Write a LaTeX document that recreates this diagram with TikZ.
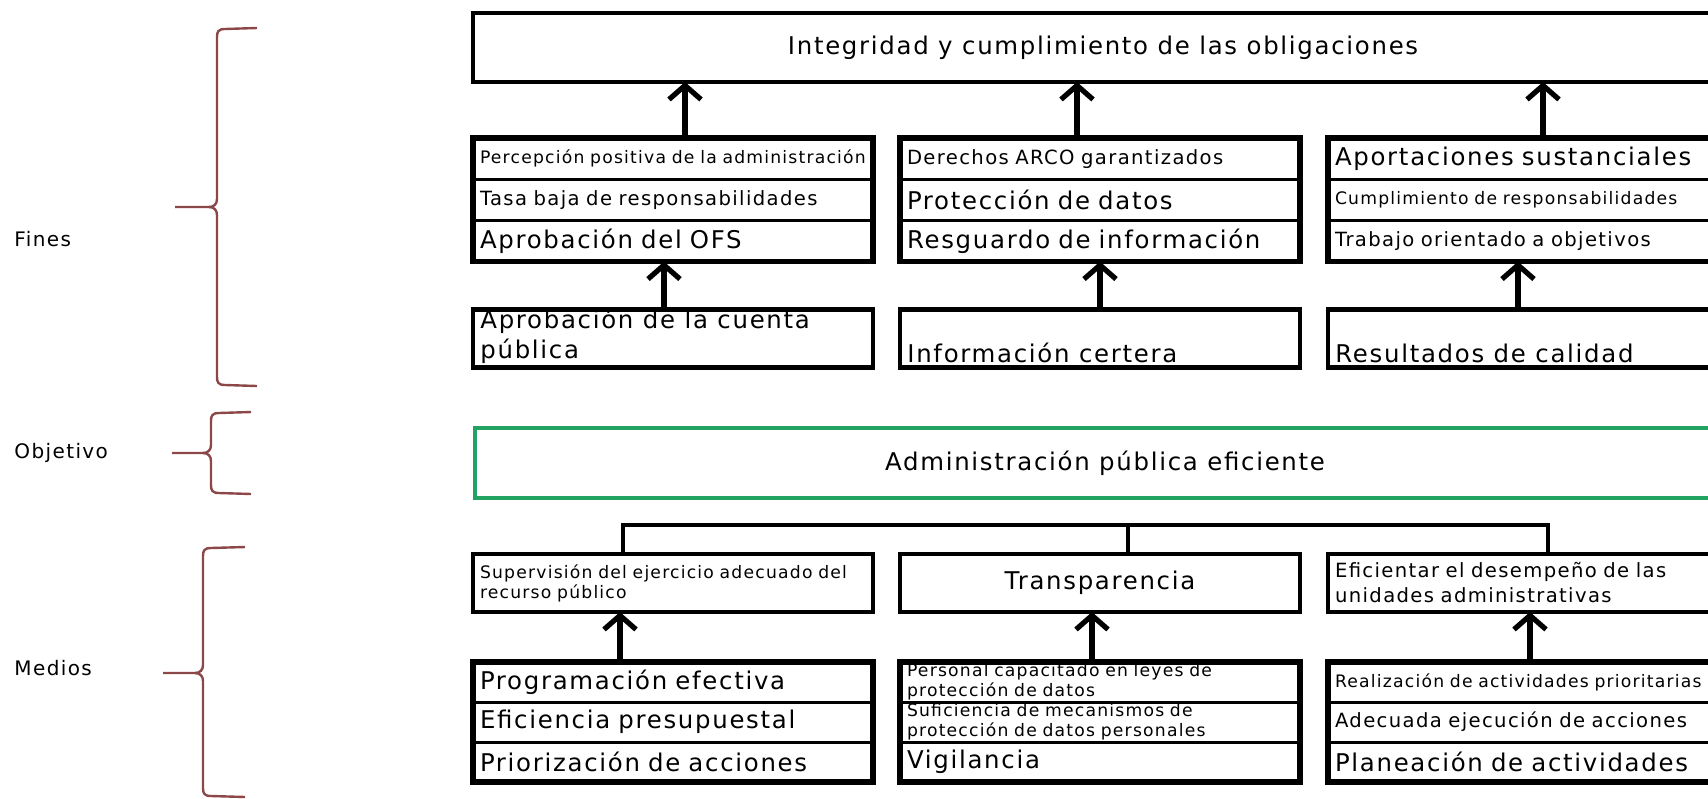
\documentclass[tikz,border=0pt]{standalone}
\usepackage{fontspec}
\setmainfont{DejaVu Sans}[LetterSpace=7]
\usetikzlibrary{arrows.meta,positioning}
\definecolor{verdeobj}{HTML}{22A263}
\definecolor{granate}{HTML}{8C4848}
\newcommand{\fgde}{\fontsize{12.2}{15}\selectfont}
\newcommand{\fmed}{\fontsize{9.8}{12.5}\selectfont}
\newcommand{\fpeq}{\fontsize{8.6}{10}\selectfont}
\tikzset{
  celda/.style={draw,line width=1.5pt,outer sep=0pt,inner xsep=3.5pt,inner ysep=0.5pt,
    text width=193pt,align=left,minimum height=20.6pt,anchor=north west},
  caja/.style={celda,line width=2.4pt,minimum height=29pt},
  marco/.style={line width=2.6pt},
  texto/.style={inner xsep=3.5pt,inner ysep=2pt,align=left,anchor=south west},
  flecha/.style={line width=2.6pt,-{Straight Barb[length=7pt,width=16pt]}},
  union/.style={line width=2.2pt,line join=miter},
  llave/.style={granate,line width=1.2pt},
  etiqueta/.style={anchor=west,inner sep=0pt,font=\fontsize{10}{12}\selectfont}
}
\begin{document}
\begin{tikzpicture}[x=0.5pt,y=-0.5pt]
    \useasboundingbox (0,0) rectangle (1708,798);
    \clip (0,0) rectangle (1708,798);
    % --- llaves y etiquetas ---
    \foreach \xv/\ya/\ym/\yb/\xt/\xe in {217/28/207/386/175/257,
                                          211/412/453/494/172/251,
                                          203/547/673/797/163/245}{
      \draw[llave] (\xe,\ya) -- (\xv+8,\ya+1) .. controls (\xv+1,\ya+1) and (\xv,\ya+4) .. (\xv,\ya+9)
        -- (\xv,\ym-8) .. controls (\xv,\ym-3) and (\xv-3,\ym) .. (\xv-8,\ym) -- (\xt,\ym);
      \draw[llave] (\xv-8,\ym) .. controls (\xv-3,\ym) and (\xv,\ym+3) .. (\xv,\ym+8)
        -- (\xv,\yb-9) .. controls (\xv,\yb-4) and (\xv+1,\yb-1) .. (\xv+8,\yb-1) -- (\xe,\yb);
    }
    \node[etiqueta] (lfines) at (14,239) {Fines};
    \node[etiqueta] (lobj) at (14,453) {Objetivo};
    \node[etiqueta] (lmedios) at (14,668) {Medios};
    % --- fin superior ---
    \node[draw,line width=2pt,outer sep=0pt,anchor=north west,minimum width=630pt,
          minimum height=34.5pt,font=\fgde] (fin) at (473,13)
          {Integridad y cumplimiento de las obligaciones};
    % --- fines: columnas ---
    \node[celda,font=\fpeq] (a1) at (473,138) {Percepción positiva de la administración};
    \node[celda,font=\fmed,below=0pt of a1] (a2) {Tasa baja de responsabilidades};
    \node[celda,font=\fgde,below=0pt of a2] (a3) {Aprobación del OFS};
    \node[celda,font=\fmed,right=13.5pt of a1] (b1) {Derechos ARCO garantizados};
    \node[celda,font=\fgde,below=0pt of b1] (b2) {Protección de datos};
    \node[celda,font=\fgde,below=0pt of b2] (b3) {Resguardo de información};
    \node[celda,font=\fgde,right=14pt of b1] (c1) {Aportaciones sustanciales};
    \node[celda,font=\fpeq,below=0pt of c1] (c2) {Cumplimiento de responsabilidades};
    \node[celda,font=\fmed,below=0pt of c2] (c3) {Trabajo orientado a objetivos};
    \foreach \g in {a,b,c}{
      \draw[marco] (\g1.north west) rectangle (\g3.south east);
    }
    \node[caja,below=24pt of a3] (a4) {};
    \node[caja,below=24pt of b3] (b4) {};
    \node[caja,below=24pt of c3] (c4) {};
    \node[texto,font=\fgde] (a4t) at (a4.south west) {Aprobación de la cuenta\\pública};
    \node[texto,font=\fgde] (b4t) at (b4.south west) {Información certera};
    \node[texto,font=\fgde] (c4t) at (c4.south west) {Resultados de calidad};
    % --- flechas de fines ---
    \draw[flecha] ([xshift=6pt]a1.north) -- ([xshift=6pt]a1.north |- fin.south);
    \draw[flecha] ([xshift=-11.5pt]b1.north) -- ([xshift=-11.5pt]b1.north |- fin.south);
    \draw[flecha] ([xshift=7.5pt]c1.north) -- ([xshift=7.5pt]c1.north |- fin.south);
    \draw[flecha] ([xshift=-4.5pt]a4.north) -- ([xshift=-4.5pt]a3.south);
    \draw[flecha] (b4.north) -- (b3.south);
    \draw[flecha] ([xshift=-5pt]c4.north) -- ([xshift=-5pt]c3.south);
    % --- objetivo ---
    \node[draw=verdeobj,line width=1.7pt,outer sep=0pt,anchor=north west,minimum width=630pt,
          minimum height=35pt,font=\fgde] (obj) at (475,428) {Administración pública eficiente};
    % --- medios ---
    \node[caja,font=\fpeq] (d1) at (473,554) {Supervisión del ejercicio adecuado del\\recurso público};
    \node[caja,font=\fgde,align=center,right=13.5pt of d1] (e1) {Transparencia};
    \node[caja,font=\fmed,right=14pt of e1] (f1) {Eficientar el desempeño de las\\unidades administrativas};
    \node[celda,font=\fgde,minimum height=20pt,below=25pt of d1] (d2) {Programación efectiva};
    \node[celda,font=\fgde,minimum height=20pt,below=0pt of d2] (d3) {Eficiencia presupuestal};
    \node[celda,font=\fgde,minimum height=20pt,below=0pt of d3] (d4) {Priorización de acciones};
    \node[celda,font=\fpeq,minimum height=20pt,below=25pt of e1] (e2) {Personal capacitado en leyes de\\protección de datos};
    \node[celda,font=\fpeq,minimum height=20pt,below=0pt of e2] (e3) {Suficiencia de mecanismos de\\protección de datos personales};
    \node[celda,font=\fgde,minimum height=20pt,below=0pt of e3] (e4) {Vigilancia};
    \node[celda,font=\fpeq,minimum height=20pt,below=25pt of f1] (f2) {Realización de actividades prioritarias};
    \node[celda,font=\fmed,minimum height=20pt,below=0pt of f2] (f3) {Adecuada ejecución de acciones};
    \node[celda,font=\fgde,minimum height=20pt,below=0pt of f3] (f4) {Planeación de actividades};
    \foreach \g in {d,e,f}{
      \draw[marco] (\g2.north west) rectangle (\g4.south east);
    }
    % --- union bajo el objetivo ---
    \coordinate (barra) at (600,525);
    \draw[union] ([xshift=-25pt]d1.north) -- ([xshift=-25pt]d1.north |- barra) -| ([xshift=10pt]f1.north);
    \draw[union] ([xshift=14pt]e1.north) -- ([xshift=14pt]e1.north |- barra);
    % --- flechas de medios ---
    \draw[flecha] ([xshift=-26.5pt]d2.north) -- ([xshift=-26.5pt]d1.south);
    \draw[flecha] ([xshift=-4pt]e2.north) -- ([xshift=-4pt]e1.south);
    \draw[flecha] ([xshift=1pt]f2.north) -- ([xshift=1pt]f1.south);
\end{tikzpicture}
\end{document}
